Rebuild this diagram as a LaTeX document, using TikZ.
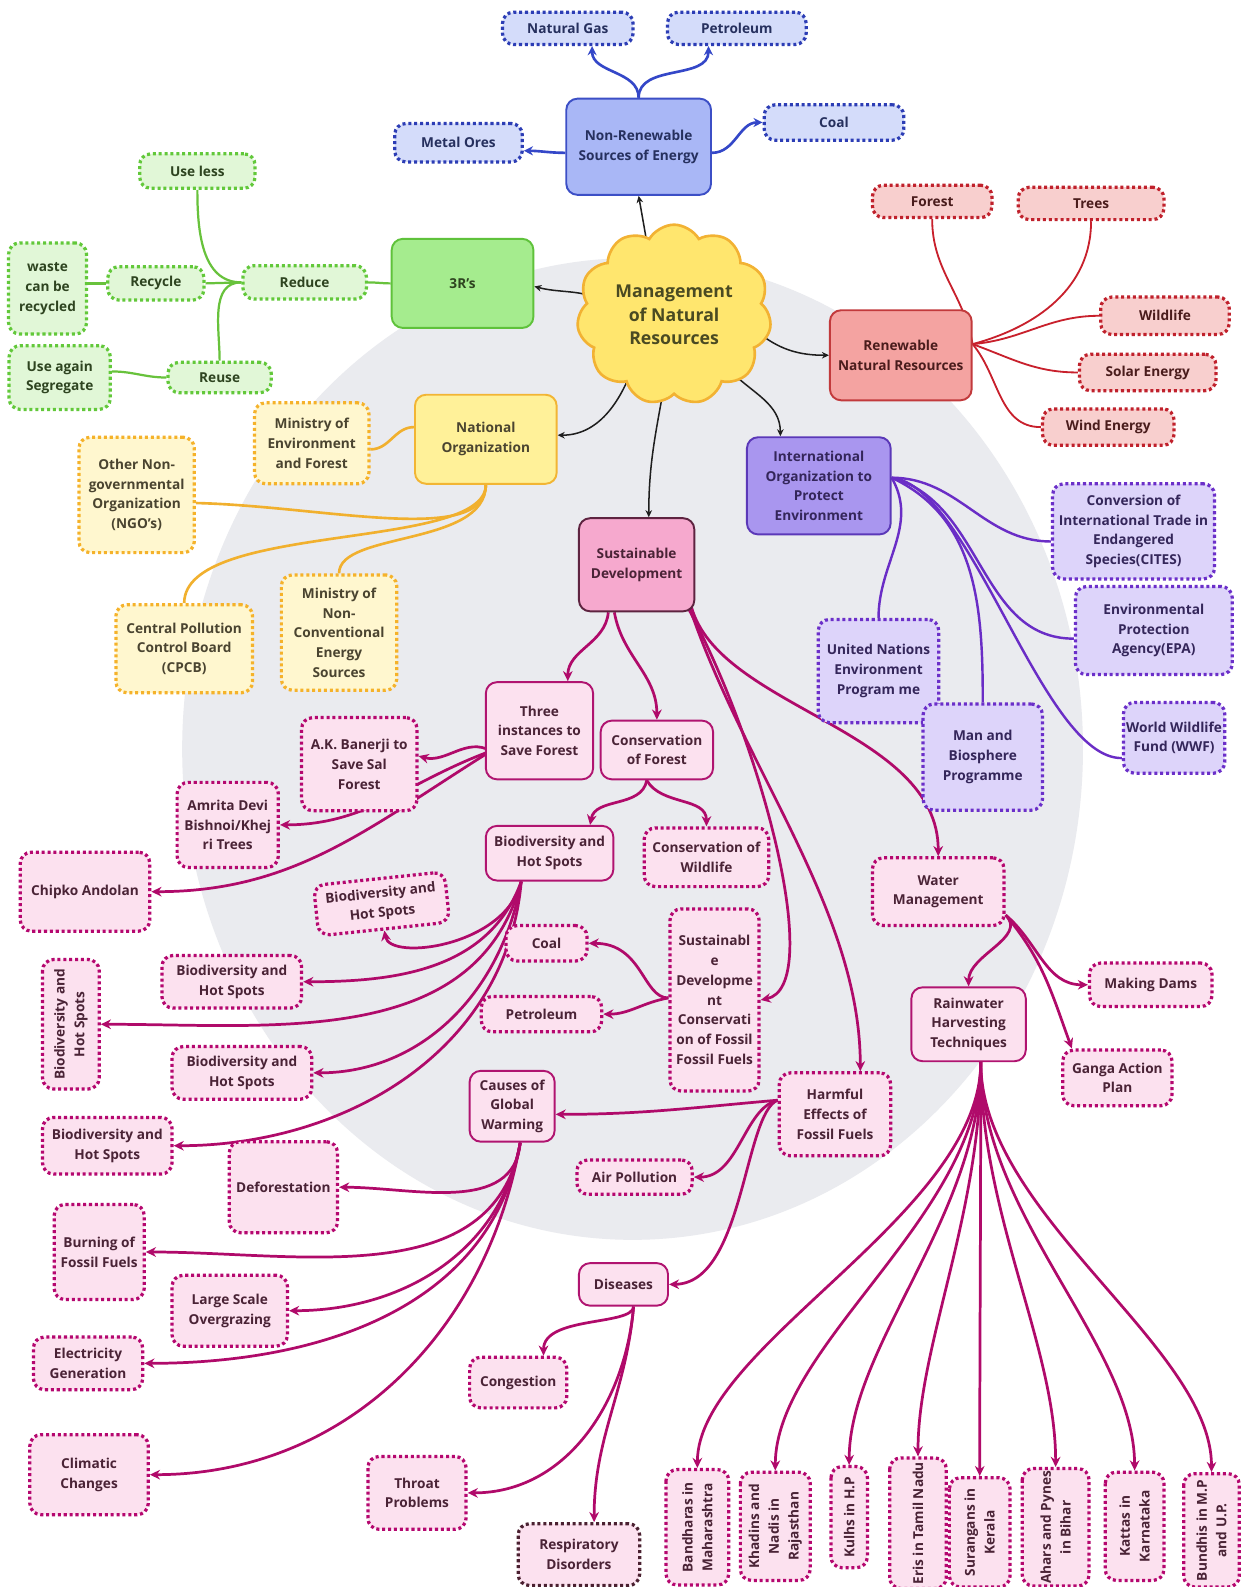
\documentclass[tikz,border=0pt]{standalone}
\usepackage{fontspec}
\setmainfont{Open Sans}
\usetikzlibrary{shapes.symbols,arrows.meta}
\pgfdeclarelayer{backdrop}
\pgfdeclarelayer{links}
\pgfsetlayers{backdrop,links,main}

\definecolor{haze}{HTML}{EAEBEF}
\definecolor{blueF}{HTML}{A9B7F6}
\definecolor{blueB}{HTML}{3C4FC6}
\definecolor{blueS}{HTML}{D4DCFA}
\definecolor{blueD}{HTML}{2C3DB5}
\definecolor{blueT}{HTML}{26305E}
\definecolor{blueL}{HTML}{3447C8}
\definecolor{greenF}{HTML}{A5EC8E}
\definecolor{greenB}{HTML}{5FC23B}
\definecolor{greenS}{HTML}{E1F7D7}
\definecolor{greenD}{HTML}{62C83A}
\definecolor{greenT}{HTML}{2E4420}
\definecolor{greenL}{HTML}{68C23C}
\definecolor{redF}{HTML}{F4A3A1}
\definecolor{redB}{HTML}{C23A3C}
\definecolor{redS}{HTML}{F8CFCE}
\definecolor{redD}{HTML}{C0212C}
\definecolor{redT}{HTML}{4A1C1C}
\definecolor{redL}{HTML}{C8202C}
\definecolor{yelF}{HTML}{FFF199}
\definecolor{yelB}{HTML}{F2B534}
\definecolor{yelS}{HTML}{FFF7CF}
\definecolor{yelD}{HTML}{F5B22A}
\definecolor{yelT}{HTML}{4A4430}
\definecolor{yelL}{HTML}{F1B02E}
\definecolor{purF}{HTML}{A996EF}
\definecolor{purB}{HTML}{5B38B8}
\definecolor{purS}{HTML}{DDD4FA}
\definecolor{purD}{HTML}{6B2FC9}
\definecolor{purT}{HTML}{34265A}
\definecolor{purL}{HTML}{6A2DC6}
\definecolor{pinkMF}{HTML}{F6A9CE}
\definecolor{pinkMB}{HTML}{5E2340}
\definecolor{pinkF}{HTML}{FCE1EF}
\definecolor{pinkB}{HTML}{B01470}
\definecolor{pinkD}{HTML}{B5076F}
\definecolor{pinkT}{HTML}{4A2336}
\definecolor{pinkL}{HTML}{B00A6A}
\definecolor{respD}{HTML}{4A2030}
\definecolor{cloudF}{HTML}{FFE66E}
\definecolor{cloudB}{HTML}{F2B233}
\definecolor{cloudT}{HTML}{4A4A22}
\definecolor{inkL}{HTML}{1E1E1E}

\tikzset{
  box/.style={rounded corners=11pt, align=center, inner sep=1pt,
    font=\bfseries\fontsize{13.5}{19.5}\selectfont},
  wh/.style 2 args={minimum width=#1pt, minimum height=#2pt},
  mainbox/.style={box, draw, line width=1.9pt},
  subbox/.style={box, draw, line width=3.2pt, dash pattern=on 3pt off 2.8pt},
  bluemain/.style={mainbox, draw=blueB, fill=blueF, text=blueT},
  bluesub/.style={subbox, draw=blueD, fill=blueS, text=blueT},
  greenmain/.style={mainbox, draw=greenB, fill=greenF, text=greenT},
  greensub/.style={subbox, draw=greenD, fill=greenS, text=greenT},
  redmain/.style={mainbox, draw=redB, fill=redF, text=redT},
  redsub/.style={subbox, draw=redD, fill=redS, text=redT},
  yelmain/.style={mainbox, draw=yelB, fill=yelF, text=yelT},
  yelsub/.style={subbox, draw=yelD, fill=yelS, text=yelT},
  purmain/.style={mainbox, draw=purB, fill=purF, text=purT},
  pursub/.style={subbox, draw=purD, fill=purS, text=purT},
  pinkcore/.style={mainbox, draw=pinkMB, fill=pinkMF, text=pinkT},
  pinkmain/.style={mainbox, draw=pinkB, fill=pinkF, text=pinkT},
  pinksub/.style={subbox, draw=pinkD, fill=pinkF, text=pinkT},
  bl/.style={draw=blueL, line width=2.6pt, -{Stealth[length=9pt,width=9pt]}},
  gr/.style={draw=greenL, line width=2.2pt},
  rd/.style={draw=redL, line width=1.8pt},
  yl/.style={draw=yelL, line width=2.6pt},
  pu/.style={draw=purL, line width=2.4pt},
  bk/.style={draw=inkL, line width=1.5pt, -{Stealth[length=7pt,width=6.5pt]}},
  pk/.style={draw=pinkL, line width=2.7pt, -{Stealth[length=10pt,width=9.5pt]}},
}

\begin{document}
\begin{tikzpicture}[x=1pt,y=1pt]
\useasboundingbox (0,0) rectangle (1229,-1568);
\begin{pgfonlayer}{backdrop}
  \fill[white] (0,0) rectangle (1229,-1568);
  \fill[haze] (625,-740) ellipse [x radius=445pt, y radius=485pt];
\end{pgfonlayer}

% ---------- centre ----------
\node[cloud, cloud puffs=11, cloud puff arc=120, aspect=1.05, draw=cloudB,
  fill=cloudF, line width=2.6pt, minimum width=192pt, minimum height=178pt,
  text=cloudT, align=center, inner sep=0pt,
  font=\bfseries\fontsize{17.5}{23}\selectfont] (core) at (666,-311)
  {Management\\of Natural\\Resources};

% ---------- non-renewable ----------
\node[bluesub, wh={129}{32}] (natgas) at (561,-28) {Natural Gas};
\node[bluesub, wh={137}{32}] (petrol) at (728,-28) {Petroleum};
\node[bluemain, wh={143}{95}] (nonren) at (631,-145) {Non-Renewable\\Sources of Energy};
\node[bluesub, wh={126}{38}] (metal) at (453,-141) {Metal Ores};
\node[bluesub, wh={138}{35}] (coal) at (824,-121) {Coal};

% ---------- 3R's ----------
\node[greensub, wh={114}{34}] (useless) at (195,-169) {Use less};
\node[greensub, wh={77}{90}] (waste) at (47,-285) {waste\\can be\\recycled};
\node[greensub, wh={95}{33}] (recycle) at (154,-280) {Recycle};
\node[greensub, wh={122}{33}] (reduce) at (301,-279) {Reduce};
\node[greenmain, wh={140}{88}] (threeR) at (457,-280) {3R’s};
\node[greensub, wh={100}{63}] (useagain) at (59,-373) {Use again\\Segregate};
\node[greensub, wh={102}{30}] (reuse) at (217,-373) {Reuse};

% ---------- renewable ----------
\node[redsub, wh={118}{32}] (forest) at (921,-199) {Forest};
\node[redsub, wh={144}{32}] (trees) at (1078,-201) {Trees};
\node[redmain, wh={140}{89}] (renew) at (890,-351) {Renewable\\Natural Resources};
\node[redsub, wh={127}{37}] (wildlife) at (1151,-312) {Wildlife};
\node[redsub, wh={135}{36}] (solar) at (1134,-368) {Solar Energy};
\node[redsub, wh={130}{36}] (wind) at (1095,-422) {Wind Energy};

% ---------- national ----------
\node[yelmain, wh={140}{88}] (natorg) at (480,-434) {National\\Organization};
\node[yelsub, wh={113}{80}] (moef) at (308,-438) {Ministry of\\Environment\\and Forest};
\node[yelsub, wh={114}{114}] (ngo) at (135,-489) {Other Non-\\governmental\\Organization\\(NGO’s)};
\node[yelsub, wh={135}{87}] (cpcb) at (182,-641) {Central Pollution\\Control Board\\(CPCB)};
\node[yelsub, wh={114}{114}] (mnces) at (335,-625) {Ministry of\\Non-\\Conventional\\Energy\\Sources};

% ---------- international ----------
\node[purmain, wh={142}{96}] (intorg) at (809,-480) {International\\Organization to\\Protect\\Environment};
\node[pursub, wh={160}{94}] (cites) at (1120,-525) {Conversion of\\International Trade in\\Endangered\\Species(CITES)};
\node[pursub, wh={155}{87}] (epa) at (1140,-623) {Environmental\\Protection\\Agency(EPA)};
\node[pursub, wh={119}{102}] (unep) at (868,-663) {United Nations\\Environment\\Program me};
\node[pursub, wh={118}{105}] (mab) at (971,-748) {Man and\\Biosphere\\Programme};
\node[pursub, wh={100}{70}] (wwf) at (1160,-729) {World Wildlife\\Fund (WWF)};

% ---------- sustainable development ----------
\node[pinkcore, wh={114}{92}] (susdev) at (629,-558) {Sustainable\\Development};
\node[pinkmain, wh={106}{96}] (three) at (533,-722) {Three\\instances to\\Save Forest};
\node[pinkmain, wh={111}{58}] (consf) at (649,-741) {Conservation\\of Forest};
\node[pinksub, wh={114}{92}] (akb) at (355,-755) {A.K. Banerji to\\Save Sal\\Forest};
\node[pinksub, wh={100}{84}] (amrita) at (225,-815) {Amrita Devi\\Bishnoi/Khej\\ri Trees};
\node[pinksub, wh={128}{78}] (chipko) at (84,-881) {Chipko Andolan};
\node[pinkmain, wh={126}{54}] (bhsA) at (543,-843) {Biodiversity and\\Hot Spots};
\node[pinksub, wh={123}{58}] (conswl) at (698,-847) {Conservation of\\Wildlife};
\node[pinksub, wh={130}{50}, rotate=6] (bhsB) at (377,-893) {Biodiversity and\\Hot Spots};
\node[pinksub, wh={138}{52}] (bhsC) at (229,-970) {Biodiversity and\\Hot Spots};
\node[pinksub, wh={128}{56}, rotate=90] (bhsD) at (70,-1012) {Biodiversity and\\Hot Spots};
\node[pinksub, wh={138}{52}] (bhsE) at (239,-1060) {Biodiversity and\\Hot Spots};
\node[pinksub, wh={128}{56}] (bhsF) at (106,-1132) {Biodiversity and\\Hot Spots};
\node[pinksub, wh={80}{35}] (coalB) at (540,-932) {Coal};
\node[pinksub, wh={119}{35}] (petrolB) at (535,-1002) {Petroleum};
\node[pinksub, wh={88}{180}] (sdcf) at (706,-988) {Sustainabl\\e\\Developme\\nt\\Conservati\\on of Fossil\\Fossil Fuels};
\node[pinksub, wh={130}{67}] (wm) at (927,-881) {Water\\Management};
\node[pinksub, wh={121}{43}] (dams) at (1137,-973) {Making Dams};
\node[pinkmain, wh={113}{73}] (rwh) at (957,-1012) {Rainwater\\Harvesting\\Techniques};
\node[pinksub, wh={108}{55}] (ganga) at (1104,-1065) {Ganga Action\\Plan};
\node[pinkmain, wh={84}{70}] (cgw) at (506,-1093) {Causes of\\Global\\Warming};
\node[pinksub, wh={110}{82}] (harm) at (825,-1101) {Harmful\\Effects of\\Fossil Fuels};
\node[pinksub, wh={114}{34}] (airpol) at (627,-1163) {Air Pollution};
\node[pinksub, wh={107}{90}] (defor) at (280,-1173) {Deforestation};
\node[pinksub, wh={89}{94}] (burning) at (98,-1237) {Burning of\\Fossil Fuels};
\node[pinksub, wh={114}{70}] (lso) at (227,-1295) {Large Scale\\Overgrazing};
\node[pinkmain, wh={88}{42}] (diseases) at (616,-1269) {Diseases};
\node[pinksub, wh={108}{52}] (elec) at (87,-1347) {Electricity\\Generation};
\node[pinksub, wh={96}{50}] (congestion) at (512,-1366) {Congestion};
\node[pinksub, wh={117}{79}] (climatic) at (88,-1457) {Climatic\\Changes};
\node[pinksub, wh={97}{72}] (throat) at (412,-1475) {Throat\\Problems};
\node[pinksub, draw=respD, wh={120}{61}] (resp) at (572,-1536) {Respiratory\\Disorders};

% rainwater harvesting structures (text reads upwards)
\node[pinksub, rotate=90, wh={114}{62}] (bandharas) at (689,-1509) {Bandharas in\\Maharashtra};
\node[pinksub, rotate=90, wh={107}{69}] (khadins) at (766,-1508) {Khadins and\\Nadis in\\Rajasthan};
\node[pinksub, rotate=90, wh={100}{36}] (kulhs) at (839,-1499) {Kulhs in H.P};
\node[pinksub, rotate=90, wh={129}{56}] (eris) at (907,-1505) {Eris in Tamil Nadu};
\node[pinksub, rotate=90, wh={108}{60}] (surangans) at (968,-1514) {Surangans in\\Kerala};
\node[pinksub, rotate=90, wh={116}{66}] (ahars) at (1043,-1509) {Ahars and Pynes\\in Bihar};
\node[pinksub, rotate=90, wh={107}{58}] (kattas) at (1121,-1508) {Kattas in\\Karnataka};
\node[pinksub, rotate=90, wh={112}{55}] (bundhis) at (1197,-1512) {Bundhis in M.P\\and U.P.};

% ================= connectors =================
\begin{pgfonlayer}{links}
% centre
\draw[bk] ([xshift=-18pt]core.center) to[out=95,in=-80] (nonren.south);
\draw[bk] ([xshift=-60pt]core.center) to[out=120,in=-15] ([yshift=-3pt]threeR.east);
\draw[bk] ([shift={(80pt,-15pt)}]core.center) to[out=-40,in=180] (renew.west);
\draw[bk] ([shift={(-40pt,-50pt)}]core.center) to[out=-110,in=0] ([yshift=4pt]natorg.east);
\draw[bk] ([shift={(-8pt,-60pt)}]core.center) to[out=-100,in=90] ([xshift=12pt]susdev.north);
\draw[bk] ([shift={(55pt,-55pt)}]core.center) to[out=-45,in=90] ([xshift=-38pt]intorg.north);

% non-renewable
\draw[bl] (nonren.north) to[out=90,in=-90] ([xshift=24pt]natgas.south);
\draw[bl] (nonren.north) to[out=90,in=-90] ([xshift=-28pt]petrol.south);
\draw[bl] ([yshift=-6pt]nonren.west) to[out=180,in=0] ([yshift=-8pt]metal.east);
\draw[bl] ([yshift=-6pt]nonren.east) to[out=0,in=180] (coal.west);

% 3R's
\draw[gr] (useless.south) to[out=-90,in=180] (reduce.west);
\draw[gr] (recycle.east) -- (reduce.west);
\draw[gr] (reuse.north) to[out=90,in=180] (reduce.west);
\draw[gr] (recycle.west) -- (recycle.west -| waste.east);
\draw[gr] ([yshift=6pt]useagain.east) to[out=0,in=180] (reuse.west);
\draw[gr] (reduce.east) to[out=0,in=180] (threeR.west);

% renewable
\coordinate (rhub) at ([yshift=11pt]renew.east);
\draw[rd] (rhub) to[out=100,in=-90] (forest.south);
\draw[rd] (rhub) to[out=15,in=-90] (trees.south);
\draw[rd] (rhub) to[out=5,in=180] (wildlife.west);
\draw[rd] (rhub) to[out=-20,in=180] (solar.west);
\draw[rd] (rhub) to[out=-50,in=180] (wind.west);

% national
\draw[yl] ([yshift=12pt]natorg.west) to[out=180,in=0] ([yshift=-6pt]moef.east);
\draw[yl] (natorg.south) .. controls (480,-540) and (320,-500) .. ([yshift=-8pt]ngo.east);
\draw[yl] (natorg.south) .. controls (480,-545) and (182,-515) .. (cpcb.north);
\draw[yl] (natorg.south) .. controls (480,-540) and (335,-525) .. (mnces.north);

% international
\coordinate (phub) at ([yshift=8pt]intorg.east);
\draw[pu] (phub) to[out=0,in=180] ([yshift=-10pt]cites.west);
\draw[pu] (phub) to[out=-15,in=180] ([yshift=-8pt]epa.west);
\draw[pu] (phub) to[out=-60,in=90] (unep.north);
\draw[pu] (phub) to[out=-25,in=90] (mab.north);
\draw[pu] (phub) .. controls (960,-480) and (1030,-750) .. ([yshift=-20pt]wwf.west);

% sustainable development
\draw[pk] ([xshift=-28pt]susdev.south) to[out=-95,in=90] ([xshift=28pt]three.north);
\draw[pk] ([xshift=-22pt]susdev.south) to[out=-80,in=90] (consf.north);
\draw[pk] ([shift={(-8pt,6pt)}]susdev.south east) .. controls (755,-740) and (815,-975) .. (sdcf.east);
\draw[pk] ([shift={(-6pt,6pt)}]susdev.south east) .. controls (735,-760) and (850,-900) .. ([xshift=25pt]harm.north);
\draw[pk] ([shift={(-4pt,6pt)}]susdev.south east) .. controls (710,-700) and (927,-720) .. (wm.north);

% forest instances
\coordinate (thub) at ([shift={(6pt,-20pt)}]three.west);
\draw[pk] (thub) to[out=150,in=-15] ([yshift=8pt]akb.east);
\draw[pk] (thub) to[out=200,in=0] (amrita.east);
\draw[pk] (thub) to[out=212,in=0] (chipko.east);

% conservation of forest
\draw[pk] ([xshift=-10pt]consf.south) to[out=-100,in=80] ([xshift=40pt]bhsA.north);
\draw[pk] ([xshift=-10pt]consf.south) to[out=-60,in=90] (conswl.north);

% biodiversity fan
\coordinate (bhub) at ([xshift=-28pt]bhsA.south);
\draw[pk] (bhub) .. controls (500,-935) and (385,-950) .. (bhsB.south);
\draw[pk] (bhub) to[out=-110,in=0] (bhsC.east);
\draw[pk] (bhub) to[out=-105,in=0] (bhsD.south);
\draw[pk] (bhub) to[out=-100,in=0] (bhsE.east);
\draw[pk] (bhub) to[out=-95,in=0] (bhsF.east);

% fossil fuels
\draw[pk] ([yshift=2pt]sdcf.west) .. controls (635,-986) and (635,-932) .. (coalB.east);
\draw[pk] ([yshift=2pt]sdcf.west) to[out=190,in=0] (petrolB.east);

% water management
\coordinate (whub) at ([yshift=12pt]wm.south east);
\draw[pk] (whub) to[out=-45,in=90] (rwh.north);
\draw[pk] (whub) to[out=-40,in=180] (dams.west);
\draw[pk] (whub) to[out=-50,in=110] ([xshift=-45pt]ganga.north);

% harmful effects
\coordinate (hhub) at ([yshift=14pt]harm.west);
\draw[pk] (hhub) to[out=185,in=0] ([yshift=-8pt]cgw.east);
\draw[pk] (hhub) .. controls (735,-1095) and (730,-1163) .. (airpol.east);
\draw[pk] (hhub) .. controls (735,-1100) and (735,-1268) .. (diseases.east);

% global warming
\coordinate (chub) at ([xshift=8pt]cgw.south);
\draw[pk] (chub) to[out=-95,in=0] (defor.east);
\draw[pk] (chub) to[out=-100,in=0] (burning.east);
\draw[pk] (chub) to[out=-100,in=0] (lso.east);
\draw[pk] (chub) to[out=-100,in=0] (elec.east);
\draw[pk] (chub) to[out=-100,in=0] (climatic.east);

% diseases
\coordinate (dhub) at ([xshift=10pt]diseases.south);
\draw[pk] (dhub) .. controls (625,-1310) and (537,-1300) .. ([xshift=25pt]congestion.north);
\draw[pk] (dhub) to[out=-95,in=0] (throat.east);
\draw[pk] (dhub) to[out=-95,in=90] ([xshift=15pt]resp.north);

% rainwater harvesting fan
\coordinate (whub2) at ([xshift=12pt]rwh.south);
\foreach \n/\x in {bandharas/689,khadins/766,kulhs/839,eris/907,surangans/968,ahars/1043,kattas/1121,bundhis/1197}
  \draw[pk] (whub2) .. controls (969,-1200) and (\x,-1330) .. (\n.east);
\end{pgfonlayer}
\end{tikzpicture}
\end{document}
